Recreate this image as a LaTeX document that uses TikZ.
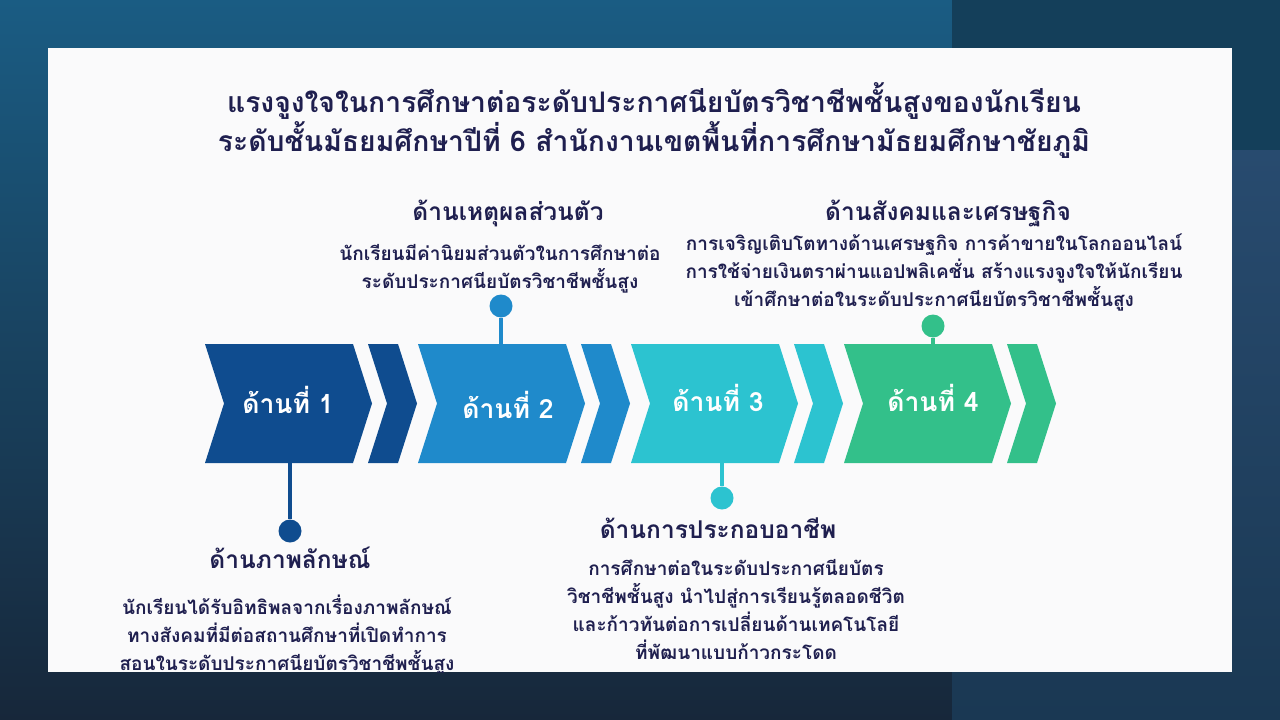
\documentclass[tikz,border=0pt]{standalone}
\usepackage{fontspec}
\newfontfamily\thaifont[Script=Thai]{Loma}
\usetikzlibrary{positioning}

\definecolor{bgtop}{HTML}{1A5C83}
\definecolor{bgbot}{HTML}{17273A}
\definecolor{sidetop}{HTML}{143F5A}
\definecolor{sidemid}{HTML}{284B6F}
\definecolor{sidebot}{HTML}{1A3853}
\definecolor{panel}{HTML}{FAFAFB}
\definecolor{navytext}{HTML}{1F1F4F}
\definecolor{aspA}{HTML}{0F4C8F}
\definecolor{aspB}{HTML}{1F8ACB}
\definecolor{aspC}{HTML}{2CC3D0}
\definecolor{aspD}{HTML}{33C08A}

\tikzset{
  headtext/.style={text=navytext,font=\thaifont\bfseries\fontsize{24.5}{28}\selectfont,inner sep=0pt},
  bodytext/.style={text=navytext,font=\thaifont\bfseries\fontsize{19}{28}\selectfont,align=center,inner sep=0pt},
  steplabel/.style={text=white,font=\thaifont\bfseries\fontsize{26.5}{30}\selectfont,inner sep=0pt},
  dot/.style={circle,fill=#1,minimum size=23pt,inner sep=0pt},
  stem/.style={line width=4.5pt,draw=#1}
}

\begin{document}
\begin{tikzpicture}[x=1pt,y=-1pt]
  \useasboundingbox (0,0) rectangle (1280,720);
  % background
  \shade[top color=bgtop,bottom color=bgbot] (0,0) rectangle (952,720);
  \fill[sidetop] (952,0) rectangle (1280,150);
  \shade[top color=sidemid,bottom color=sidebot] (952,150) rectangle (1280,720);
  \fill[panel] (48,48) rectangle (1232,672);

  \begin{scope}
  \clip (48,48) rectangle (1232,672);

  % title
  \node[text=navytext,font=\thaifont\bfseries\fontsize{28.3}{39}\selectfont,align=center,inner sep=0pt] (title) at (654,120)
    {แรงจูงใจในการศึกษาต่อระดับประกาศนียบัตรวิชาชีพชั้นสูงของนักเรียน\\
     ระดับชั้นมัธยมศึกษาปีที่ 6 สำนักงานเขตพื้นที่การศึกษามัธยมศึกษาชัยภูมิ};

  % chevrons
  \foreach \a/\col/\lx/\ly/\n in {205/aspA/288/400/1, 418/aspB/508/405/2, 631/aspC/718/398/3, 844/aspD/933/398/4}{
    \fill[\col] (\a,344) -- ++(148,0) -- ++(19,59.5) -- ++(-19,59.5) -- ++(-148,0) -- ++(19,-59.5) -- cycle;
    \fill[\col] (\a+163,344) -- ++(30,0) -- ++(19,59.5) -- ++(-19,59.5) -- ++(-30,0) -- ++(19,-59.5) -- cycle;
    \node[steplabel] (s\n) at (\lx,\ly) {ด้านที่ \n};
  }
  \coordinate (e1) at (290,463);
  \coordinate (e2) at (501,344);
  \coordinate (e3) at (722,463);
  \coordinate (e4) at (933,344);

  % markers
  \node[dot=aspA] (d1) at (290,531) {};
  \node[dot=aspB] (d2) at (501,306) {};
  \node[dot=aspC] (d3) at (722,498) {};
  \node[dot=aspD] (d4) at (933,326) {};
  \draw[stem=aspA] (e1) -- (d1);
  \draw[stem=aspB] (d2) -- (e2);
  \draw[stem=aspC] (e3) -- (d3);
  \draw[stem=aspD] (d4) -- (e4);

  % texts
  \node[headtext] (h2) at (508,213) {ด้านเหตุผลส่วนตัว};
  \node[bodytext] (b2) at (500,269) {นักเรียนมีค่านิยมส่วนตัวในการศึกษาต่อ\\ระดับประกาศนียบัตรวิชาชีพชั้นสูง};

  \node[headtext] (h4) at (948,213) {ด้านสังคมและเศรษฐกิจ};
  \node[bodytext] (b4) at (934,272.5) {การเจริญเติบโตทางด้านเศรษฐกิจ การค้าขายในโลกออนไลน์\\การใช้จ่ายเงินตราผ่านแอปพลิเคชั่น สร้างแรงจูงใจให้นักเรียน\\เข้าศึกษาต่อในระดับประกาศนียบัตรวิชาชีพชั้นสูง};

  \node[headtext] (h1) at (290,558) {ด้านภาพลักษณ์};
  \node[bodytext] (b1) at (287,635) {นักเรียนได้รับอิทธิพลจากเรื่องภาพลักษณ์\\ทางสังคมที่มีต่อสถานศึกษาที่เปิดทำการ\\สอนในระดับประกาศนียบัตรวิชาชีพชั้นสูง};

  \node[headtext] (h3) at (718,528) {ด้านการประกอบอาชีพ};
  \node[bodytext] (b3) at (736,609) {การศึกษาต่อในระดับประกาศนียบัตร\\วิชาชีพชั้นสูง นำไปสู่การเรียนรู้ตลอดชีวิต\\และก้าวทันต่อการเปลี่ยนด้านเทคโนโลยี\\ที่พัฒนาแบบก้าวกระโดด};
  \end{scope}
\end{tikzpicture}
\end{document}
